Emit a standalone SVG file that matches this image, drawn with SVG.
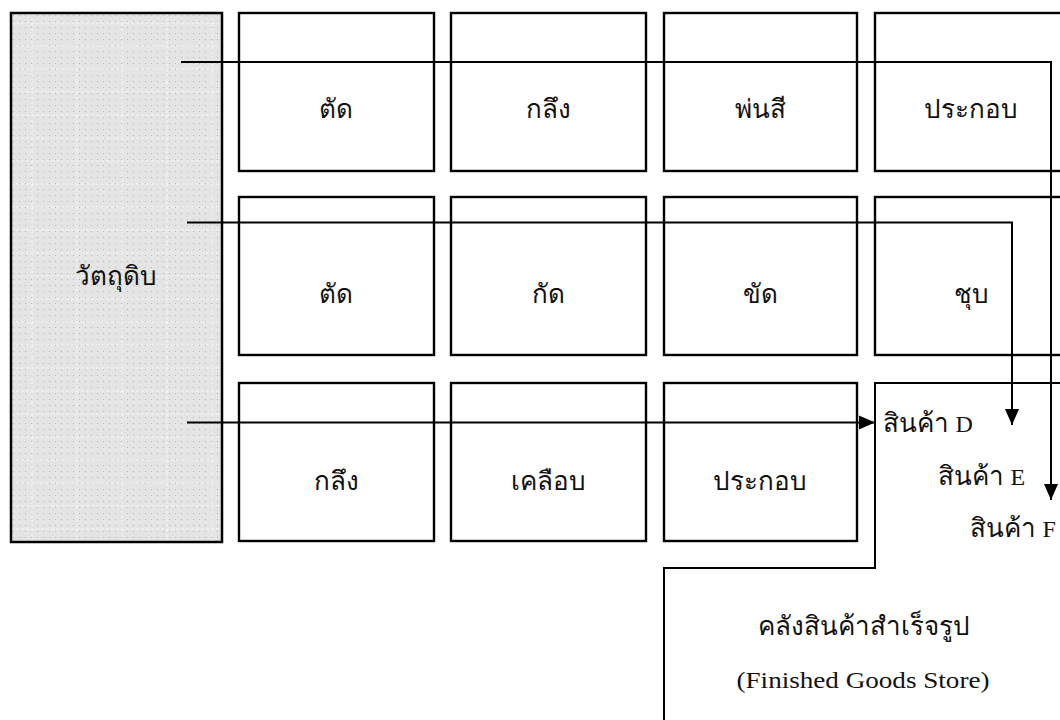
<svg xmlns="http://www.w3.org/2000/svg" width="1060" height="720" viewBox="0 0 1060 720">
<defs>
<pattern id="dots" x="11" y="13" width="6" height="6" patternUnits="userSpaceOnUse">
<rect width="6" height="6" fill="#e4e4e4"/>
<rect x="2" y="2" width="1" height="1" fill="#b8b8b8"/>
</pattern>
<pattern id="grid" x="11" y="13" width="45" height="23" patternUnits="userSpaceOnUse">
<line x1="0" y1="10" x2="45" y2="10" stroke="#f4f4f4" stroke-width="1" stroke-dasharray="3,2"/>
<line x1="21" y1="0" x2="21" y2="23" stroke="#f4f4f4" stroke-width="1" stroke-dasharray="3,2"/>
</pattern>
<marker id="arr" markerWidth="16" markerHeight="16" refX="16" refY="8" orient="auto" markerUnits="userSpaceOnUse">
<path d="M0,1 L16,8 L0,15 Z" fill="#000"/>
</marker>
</defs>
<style>
.box{fill:#fff;stroke:#000;stroke-width:2.4}
.t{font-family:"Liberation Serif","Times New Roman",serif;font-size:26px;fill:#111;text-anchor:middle}
.ts{font-family:"Liberation Serif","Times New Roman",serif;font-size:26px;fill:#111}
.en{font-size:24px}
.ln{fill:none;stroke:#000;stroke-width:2}
</style>
<rect width="1060" height="720" fill="#fff"/>

<g id="raw">
<rect x="11" y="13" width="211" height="529" fill="url(#dots)"/>
<rect x="11" y="13" width="211" height="529" fill="url(#grid)" stroke="#000" stroke-width="2.5"/>
<text class="t" x="116" y="285">วัตถุดิบ</text>
</g>

<g id="r1c1"><rect class="box" x="239" y="13" width="195" height="158"/><text class="t" x="336" y="118">ตัด</text></g>
<g id="r1c2"><rect class="box" x="451" y="13" width="195" height="158"/><text class="t" x="548" y="118">กลึง</text></g>
<g id="r1c3"><rect class="box" x="664" y="13" width="193" height="158"/><text class="t" x="760" y="118">พ่นสี</text></g>
<g id="r1c4"><rect class="box" x="875" y="13" width="200" height="158"/><text class="t" x="971" y="118">ประกอบ</text></g>

<g id="r2c1"><rect class="box" x="239" y="197" width="195" height="158"/><text class="t" x="336" y="303">ตัด</text></g>
<g id="r2c2"><rect class="box" x="451" y="197" width="195" height="158"/><text class="t" x="548" y="303">กัด</text></g>
<g id="r2c3"><rect class="box" x="664" y="197" width="193" height="158"/><text class="t" x="760" y="303">ขัด</text></g>
<g id="r2c4"><rect class="box" x="875" y="197" width="200" height="158"/><text class="t" x="971" y="303">ชุบ</text></g>

<g id="r3c1"><rect class="box" x="239" y="383" width="195" height="158"/><text class="t" x="336" y="490">กลึง</text></g>
<g id="r3c2"><rect class="box" x="451" y="383" width="195" height="158"/><text class="t" x="548" y="490">เคลือบ</text></g>
<g id="r3c3"><rect class="box" x="664" y="383" width="193" height="158"/><text class="t" x="760" y="490">ประกอบ</text></g>

<g id="store">
<path class="ln" d="M1065,383 H875 V568 H664 V725" stroke-width="2.4"/>
<text class="t" x="864" y="635">คลังสินค้าสำเร็จรูป</text>
<text class="t en" x="863" y="688" textLength="253" lengthAdjust="spacingAndGlyphs">(Finished Goods Store)</text>
<text class="ts" x="883" y="432">สินค้า <tspan class="en">D</tspan></text>
<text class="ts" x="938" y="485">สินค้า <tspan class="en">E</tspan></text>
<text class="ts" x="970" y="537">สินค้า <tspan class="en">F</tspan></text>
</g>

<g id="connectors">
<path class="ln" d="M181,62 H1051 V500" marker-end="url(#arr)"/>
<path class="ln" d="M187,222.5 H1012 V425" marker-end="url(#arr)"/>
<path class="ln" d="M187,422.5 H875" marker-end="url(#arr)"/>
</g>
</svg>
